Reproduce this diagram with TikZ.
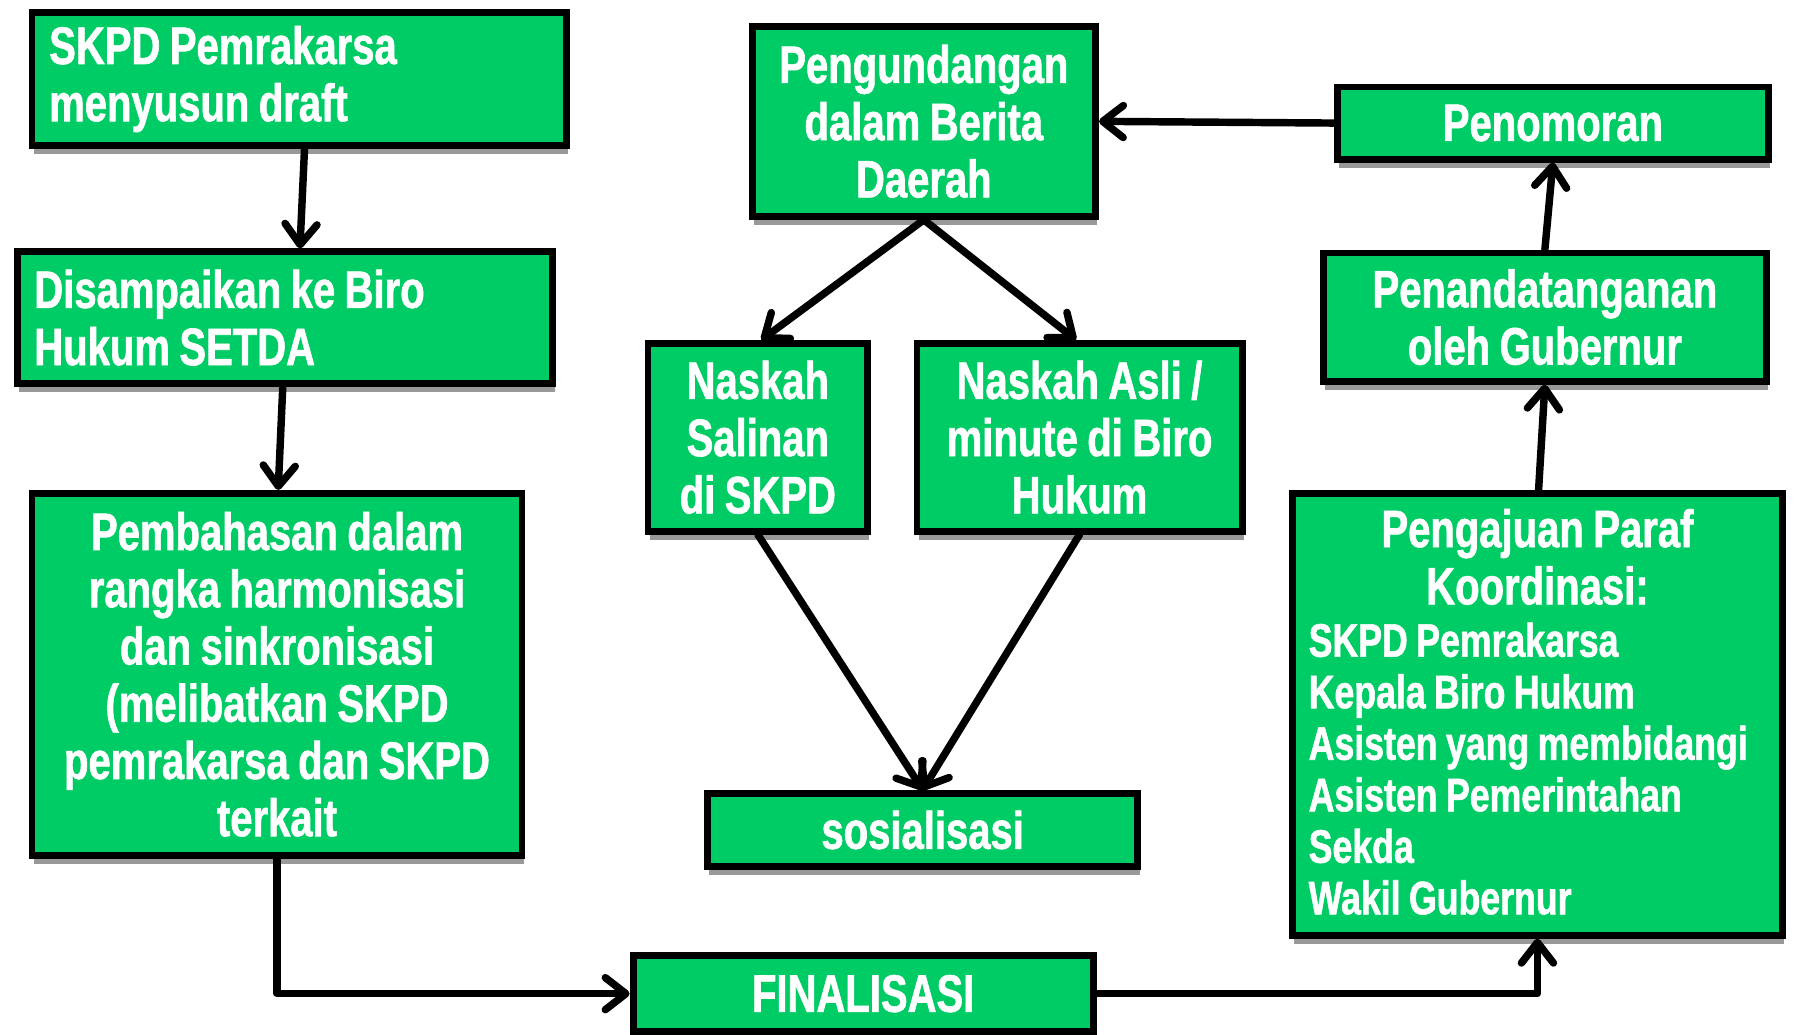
\documentclass[tikz,border=0pt]{standalone}
\usepackage{fontspec}
\newfontfamily\impactish{Liberation Sans}[FakeStretch=0.76, FakeBold=1.2, WordSpace=0.85]
\usetikzlibrary{arrows.meta,shadows}
\definecolor{boxgreen}{RGB}{0,204,102}
\tikzset{
  box/.style={draw=black, line width=6pt, fill=boxgreen, inner sep=0pt,
    text=white, font=\impactish\bfseries\fontsize{46}{50}\selectfont,
    drop shadow={shadow xshift=1.5pt, shadow yshift=-7.5pt, fill=black!40, opacity=1}},
  boxtext/.style={inner sep=0pt, text=white},
  arr/.style={line width=6.5pt, line cap=round, line join=round,
    -{Straight Barb[length=18pt,width=28pt,round]}},
}
\begin{document}
\begin{tikzpicture}[x=1pt,y=-1pt]
\fill[white] (0,0) rectangle (1568,904);
\useasboundingbox (0,0) rectangle (1568,904);

% left column
\node[box, minimum width=467, minimum height=116, text width=437, align=flush left] (a) at (261.5,69)
  {SKPD Pemrakarsa\\menyusun draft};
\node[box, minimum width=468, minimum height=115, text width=438, align=flush left] (b) at (249,277.5)
  {Disampaikan ke Biro\\Hukum SETDA};
\node[box, minimum width=428, minimum height=316, text width=420, align=flush center] (c) at (242,589)
  {Pembahasan dalam\\rangka harmonisasi\\dan sinkronisasi\\(melibatkan SKPD\\pemrakarsa dan SKPD\\terkait};

% middle column
\node[box, minimum width=300, minimum height=166, align=center] (d) at (807,106)
  {Pengundangan\\dalam Berita\\Daerah};
\node[box, minimum width=192, minimum height=164, align=center] (h) at (662,382)
  {Naskah\\Salinan\\di SKPD};
\node[box, minimum width=284, minimum height=164, align=center] (i) at (943,382)
  {Naskah Asli /\\minute di Biro\\Hukum};
\node[box, minimum width=376, minimum height=64] (j) at (806,725) {sosialisasi};
\node[box, minimum width=402, minimum height=66] (k) at (754,868) {FINALISASI};

% right column
\node[box, minimum width=377, minimum height=63] (e) at (1356.5,107.5) {Penomoran};
\node[box, minimum width=387, minimum height=112, align=center] (f) at (1349.5,277)
  {Penandatanganan\\oleh Gubernur};
\node[box, minimum width=428, minimum height=386] (g) at (1343,624) {};
\node[boxtext, font=\impactish\bfseries\fontsize{46}{50}\selectfont, align=center] (gtitle) at (1343,486.5)
  {Pengajuan Paraf\\Koordinasi:};
\node[boxtext, font=\impactish\bfseries\fontsize{41}{45}\selectfont, align=left, anchor=west] (glist) at (1143,671.5)
  {SKPD Pemrakarsa\\Kepala Biro Hukum\\Asisten yang membidangi\\Asisten Pemerintahan\\Sekda\\Wakil Gubernur};

% connectors
\draw[arr] ([xshift=4.5pt]a.south) -- ([xshift=13pt]b.north);
\draw[arr] ([xshift=-2pt]b.south) -- ([xshift=1pt]c.north);
\draw[arr] (c.south) |- (k.west);
\draw[arr] (k.east) -| (g.south);
\draw[arr] ([xshift=1pt]g.north) -- (f.south);
\draw[arr] (f.north) -- (e.south);
\draw[arr] (e.west) -- (d.east);
\draw[arr] (d.south) -- ([xshift=3pt]h.north);
\draw[arr] (d.south) -- ([xshift=-3pt]i.north);
\draw[arr] (h.south) -- (j.north);
\draw[arr] (i.south) -- (j.north);
\end{tikzpicture}
\end{document}
